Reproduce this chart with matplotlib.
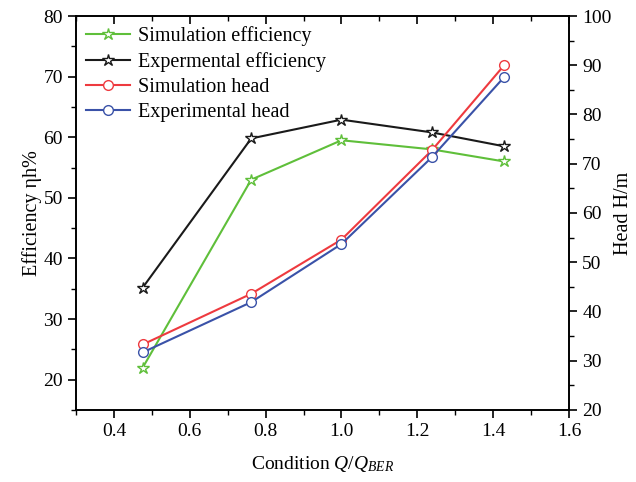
import matplotlib
matplotlib.use("Agg")
import matplotlib.pyplot as plt
from matplotlib.ticker import MultipleLocator

plt.rcParams['font.family'] = ['Liberation Serif', 'DejaVu Serif']
plt.rcParams['mathtext.fontset'] = 'custom'
plt.rcParams['mathtext.rm'] = 'Liberation Serif'
plt.rcParams['mathtext.it'] = 'Liberation Serif:italic'
plt.rcParams['font.size'] = 14

# data
condition = [0.476, 0.762, 1.0, 1.238, 1.429]
sim_eff = [22.0, 53.0, 59.5, 58.0, 56.0]
exp_eff = [35.2, 59.8, 62.9, 60.8, 58.5]
sim_head = [33.3, 43.6, 54.6, 72.7, 90.0]
exp_head = [31.7, 41.9, 53.7, 71.3, 87.6]

green = '#5fbf3a'
red = '#ee3a3f'
blue = '#3a52a8'
black = '#1a1a1a'

fig = plt.figure(figsize=(6.36, 4.82), dpi=100)
ax = fig.add_axes([0.1195, 0.1494, 0.7752, 0.8174])
ax2 = ax.twinx()

l1, = ax.plot(condition, sim_eff, color=green, lw=1.5, marker='*', ms=9,
              mfc='white', mec=green, mew=1.0, label='Simulation efficiency')
l2, = ax.plot(condition, exp_eff, color=black, lw=1.5, marker='*', ms=9,
              mfc='white', mec=black, mew=1.0, label='Expermental efficiency')
l3, = ax2.plot(condition, sim_head, color=red, lw=1.5, marker='o', ms=7,
               mfc='white', mec=red, mew=1.0, label='Simulation head')
l4, = ax2.plot(condition, exp_head, color=blue, lw=1.5, marker='o', ms=7,
               mfc='white', mec=blue, mew=1.0, label='Experimental head')

ax.set_xlim(0.3, 1.6)
ax.set_ylim(15, 80)
ax2.set_ylim(20, 100)

ax.xaxis.set_minor_locator(MultipleLocator(0.1))
ax.yaxis.set_minor_locator(MultipleLocator(5))
ax2.yaxis.set_major_locator(MultipleLocator(10))
ax2.yaxis.set_minor_locator(MultipleLocator(5))
ax.set_xticks([0.4, 0.6, 0.8, 1.0, 1.2, 1.4, 1.6])
ax.set_yticks([20, 30, 40, 50, 60, 70, 80])

ax.tick_params(axis='x', which='both', direction='out', top=True)
ax.tick_params(axis='x', which='major', length=6, width=1.2, labelsize=14)
ax.tick_params(axis='x', which='minor', length=3.5, width=1.0)
ax.tick_params(axis='y', which='major', direction='out', length=6, width=1.2, labelsize=14)
ax.tick_params(axis='y', which='minor', direction='out', length=3.5, width=1.0)
ax2.tick_params(axis='y', which='major', direction='out', length=6, width=1.2, labelsize=14)
ax2.tick_params(axis='y', which='minor', direction='out', length=3.5, width=1.0)
# top ticks point inward
for t in ax.xaxis.get_major_ticks() + ax.xaxis.get_minor_ticks():
    t.tick2line.set_marker(3)

for a in (ax, ax2):
    for s in a.spines.values():
        s.set_linewidth(1.2)

ax.set_xlabel('Condition $\\mathit{Q}/\\mathit{Q}_{\\mathit{BER}}$', fontsize=14, labelpad=10)
ax.set_ylabel('Efficiency ηh%', fontsize=14.5, labelpad=1)
ax2.set_ylabel('Head H/m', fontsize=14.5, labelpad=2)

ax.legend(handles=[l1, l2, l3, l4], loc='upper left', frameon=False,
          fontsize=14.5, handlelength=2.2, labelspacing=0.3,
          borderaxespad=0.1, handletextpad=0.4)

fig.savefig('out.png', dpi=100)
